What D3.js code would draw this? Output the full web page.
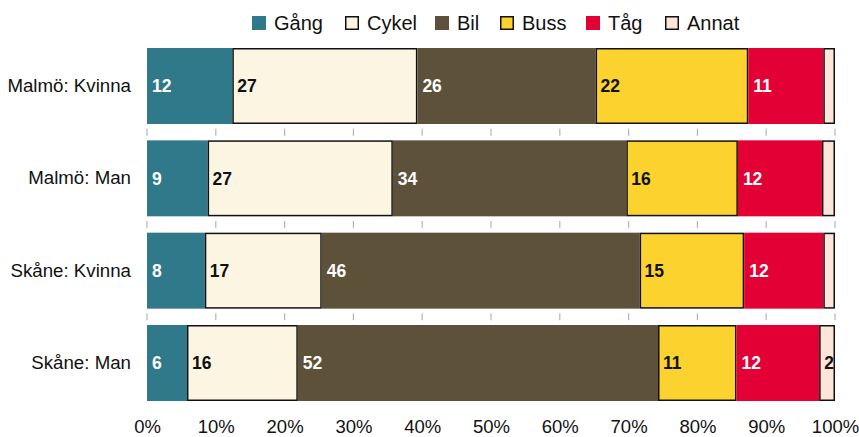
<!DOCTYPE html>
<html>
<head>
<meta charset="utf-8">
<script src="https://cdn.jsdelivr.net/npm/d3@7"></script>
<style>
  body { margin: 0; background: #fff; }
  text { font-family: "Liberation Sans", Arial, sans-serif; }
</style>
</head>
<body>
<svg id="chart" width="859" height="437"></svg>
<script>
// categories (rows) and modes of travel
var groups = ['Malmö: Kvinna', 'Malmö: Man', 'Skåne: Kvinna', 'Skåne: Man'];
var modes = ['Gång', 'Cykel', 'Bil', 'Buss', 'Tåg', 'Annat'];

// share per mode, in %, one value per row
var gang  = [12.4,  8.8,  8.4,  5.8];
var cykel = [26.9, 26.9, 17.0, 16.1];
var bil   = [25.9, 33.9, 46.2, 52.3];
var buss  = [22.2, 16.2, 15.2, 11.4];
var tag   = [10.9, 12.2, 11.5, 12.0];
var annat = [ 1.7,  1.9,  1.7,  2.3];

var xTicks = [0, 10, 20, 30, 40, 50, 60, 70, 80, 90, 100];

var colors = ['#2f798b', '#fcf5e2', '#5e5139', '#fcd22f', '#e30034', '#fde5da'];
var outlined = [false, true, false, true, false, true];
var darkText = [false, true, false, true, false, true];

var series = [gang, cykel, bil, buss, tag, annat];
var rows = groups.map(function(g, i){
	var r = { group: g };
	modes.forEach(function(m, j){ r[m] = series[j][i]; });
	return r;
});

var svg = d3.select('#chart');

var x = d3.scaleLinear().domain([0, 100]).range([147, 835]);
var y = d3.scaleBand().domain(groups).range([48, 401]).paddingInner(0.177).paddingOuter(0);

var stack = d3.stack().keys(modes).offset(d3.stackOffsetExpand);
var layers = stack(rows);

// grid: short dashes only in the gaps between bars
var gaps = groups.slice(1).map(function(g){
	return y(g) - (y.step() - y.bandwidth()) / 2;
});
var grid = svg.append('g').attr('class', 'grid');
gaps.forEach(function(gy){
	grid.selectAll(null)
		.data(xTicks)
		.enter()
		.append('line')
		.attr('x1', function(d){ return x(d); })
		.attr('x2', function(d){ return x(d); })
		.attr('y1', gy - 3.5)
		.attr('y2', gy + 3.5)
		.attr('stroke', '#b5b5b5')
		.attr('stroke-width', 1.2);
});

// bars
var layer = svg.selectAll('.layer')
	.data(layers)
	.enter()
	.append('g')
	.attr('class', 'layer');

layer.each(function(L, j){
	var g = d3.select(this);
	var inset = outlined[j] ? 0.75 : 0;
	g.selectAll('rect')
		.data(L)
		.enter()
		.append('rect')
		.attr('x', function(d){ return x(d[0] * 100) + inset; })
		.attr('y', function(d){ return y(d.data.group) + inset; })
		.attr('width', function(d){ return x(d[1] * 100) - x(d[0] * 100) - 2 * inset; })
		.attr('height', y.bandwidth() - 2 * inset)
		.attr('fill', colors[j])
		.attr('stroke', outlined[j] ? '#111' : 'none')
		.attr('stroke-width', 1.5);

	g.selectAll('text')
		.data(L.filter(function(d){ return x(d[1] * 100) - x(d[0] * 100) > 14; }))
		.enter()
		.append('text')
		.attr('x', function(d){ return x(d[0] * 100) + 5; })
		.attr('y', function(d){ return y(d.data.group) + y.bandwidth() / 2; })
		.attr('dy', '0.36em')
		.attr('font-size', 17.5)
		.attr('font-weight', 'bold')
		.attr('fill', darkText[j] ? '#111' : '#fff')
		.text(function(d){ return Math.round(d.data[L.key]); });
});

// x axis
var xAxis = svg.append('g')
	.attr('transform', 'translate(0,' + 405 + ')')
	.call(d3.axisBottom(x).tickValues(xTicks).tickSize(0).tickPadding(15)
		.tickFormat(function(d){ return d + '%'; }));
xAxis.select('.domain').remove();
xAxis.selectAll('text')
	.attr('font-size', 18.5)
	.attr('font-family', '"Liberation Sans", Arial, sans-serif')
	.attr('fill', '#111');

// y axis
var yAxis = svg.append('g')
	.attr('transform', 'translate(131,0)')
	.call(d3.axisLeft(y).tickSize(0).tickPadding(0));
yAxis.select('.domain').remove();
yAxis.selectAll('text')
	.attr('font-size', 18.7)
	.attr('font-family', '"Liberation Sans", Arial, sans-serif')
	.attr('fill', '#111');

// legend
var legendX = [252, 345, 435, 500, 586, 665];
var legend = svg.append('g').attr('class', 'legend');
var item = legend.selectAll('g')
	.data(modes)
	.enter()
	.append('g')
	.attr('transform', function(d, i){ return 'translate(' + legendX[i] + ',16)'; });
item.append('rect')
	.attr('x', function(d, i){ return outlined[i] ? 0.75 : 0; })
	.attr('y', function(d, i){ return outlined[i] ? 0.75 : 0; })
	.attr('width', function(d, i){ return outlined[i] ? 12.5 : 14; })
	.attr('height', function(d, i){ return outlined[i] ? 12.5 : 14; })
	.attr('fill', function(d, i){ return colors[i]; })
	.attr('stroke', function(d, i){ return outlined[i] ? '#111' : 'none'; })
	.attr('stroke-width', 1.5);
item.append('text')
	.attr('x', 22)
	.attr('y', 7)
	.attr('dy', '0.36em')
	.attr('font-size', 20)
	.attr('fill', '#111')
	.text(function(d){ return d; });
</script>
</body>
</html>
